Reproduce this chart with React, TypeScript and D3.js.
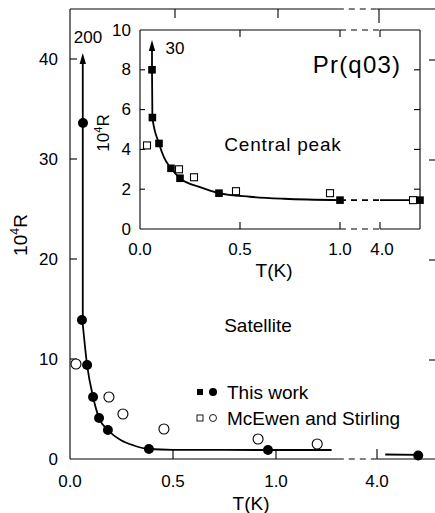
import * as d3 from "d3";
import { useEffect, useRef } from "react";

// Satellite (outer panel)
const satThisT = [0.063, 0.058, 0.083, 0.112, 0.141, 0.184, 0.383, 0.961, 4.2];
const satThisR = [33.6, 13.9, 9.4, 6.2, 4.1, 2.9, 1.0, 0.9, 0.35];
const satMcT = [0.029, 0.189, 0.257, 0.456, 0.913, 1.2];
const satMcR = [9.5, 6.2, 4.5, 3.0, 2.0, 1.5];
const satFitT = [0.06, 0.083, 0.112, 0.141, 0.184, 0.25, 0.31, 0.383, 0.5, 0.96, 1.27];
const satFitR = [13.9, 9.4, 6.2, 4.1, 2.9, 1.85, 1.35, 1.0, 0.92, 0.9, 0.9];
const satTailT = [4.04, 4.2];
const satTailR = [0.45, 0.42];
const satArrowT = 0.062;
const satArrowR = [13.9, 40.6];

// Central peak (inset)
const cpThisT = [0.06, 0.062, 0.095, 0.155, 0.2, 0.395, 1.0, 4.2];
const cpThisR = [8.0, 5.6, 4.3, 3.05, 2.55, 1.8, 1.45, 1.45];
const cpMcT = [0.035, 0.195, 0.27, 0.48, 0.95, 4.165];
const cpMcR = [4.2, 3.0, 2.6, 1.9, 1.8, 1.45];
const cpFitT = [0.06, 0.062, 0.095, 0.12, 0.155, 0.2, 0.3, 0.395, 0.55, 0.72, 1.0];
const cpFitR = [8.0, 5.6, 4.3, 3.6, 3.05, 2.55, 2.1, 1.8, 1.62, 1.52, 1.45];
const cpArrowT = 0.06;
const cpArrowR = [8.0, 9.5];

const xTickVals = [0, 0.5, 1.0, 4.0];
const xTickLabels = ["0.0", "0.5", "1.0", "4.0"];
const satYTicks = [0, 10, 20, 30, 40];
const cpYTicks = [0, 2, 4, 6, 8, 10];

const W = 435, H = 513;
const FONT = "'Liberation Sans', Arial, sans-serif";

const broken = (a, b, cut) => (t) => (t < cut ? a(t) : b(t));

const App = () => {
  const ref = useRef(null);

  useEffect(() => {
    const svg = d3.select(ref.current);
    svg.selectAll("*").remove();

    // ---------- outer panel scales
    const xa = d3.scaleLinear().domain([0, 1]).range([70, 276]);
    const xb = d3.scaleLinear().domain([4, 4.2]).range([377, 418.2]);
    const x = broken(xa, xb, 2);
    const y = d3.scaleLinear().domain([0, 45]).range([459, 9]);
    const left = x(0), right = W, top = y(45), bottom = y(0);
    const brk0 = xa(1.3), brk1 = xb(4);

    const g = svg.append("g");
    const line = (x1, y1, x2, y2, dash?) => {
      const l = g.append("line")
        .attr("x1", x1).attr("y1", y1).attr("x2", x2).attr("y2", y2)
        .attr("stroke", "#000").attr("stroke-width", 1.1);
      if (dash) l.attr("stroke-dasharray", dash);
      return l;
    };

    // frame
    line(left, top, left, bottom);
    [top, bottom].forEach(yy => {
      line(left, yy, brk0, yy);
      line(brk0, yy, brk1, yy, "6,5");
      line(brk1, yy, right, yy);
    });
    satYTicks.filter(v => v > 0).forEach(v => {
      line(left, y(v), left + 7, y(v));
      line(right - 6, y(v) + 1, right, y(v) + 1);
    });
    xTickVals.filter(v => v > 0).forEach(v => {
      line(x(v), bottom, x(v), bottom - 10);
      line(x(v) + 2, top, x(v) + 2, top + (v === 4 ? 14 : 9));
    });

    // tick labels
    satYTicks.forEach(v => {
      g.append("text").attr("x", 58).attr("y", y(v)).attr("text-anchor", "end")
        .attr("dominant-baseline", "central").attr("font-size", 17).attr("font-family", FONT)
        .text(v);
    });
    xTickVals.forEach((v, i) => {
      g.append("text").attr("x", x(v)).attr("y", 481).attr("text-anchor", "middle")
        .attr("dominant-baseline", "central").attr("font-size", 17).attr("font-family", FONT)
        .text(xTickLabels[i]);
    });

    // axis titles
    const yTitle = (tx, ty, fs) => {
      const t = g.append("text").attr("transform", `translate(${tx},${ty}) rotate(-90)`)
        .attr("text-anchor", "middle").attr("font-size", fs).attr("font-family", FONT);
      t.append("tspan").text("10");
      t.append("tspan").attr("dy", -fs * 0.4).attr("font-size", fs * 0.65).text("4");
      t.append("tspan").attr("dy", fs * 0.4).text("R");
    };
    yTitle(27, 235, 19);
    g.append("text").attr("x", 251).attr("y", 503).attr("text-anchor", "middle")
      .attr("dominant-baseline", "central").attr("font-size", 19).attr("font-family", FONT)
      .text("T(K)");
    g.append("text").attr("x", 258).attr("y", 325).attr("text-anchor", "middle")
      .attr("dominant-baseline", "central").attr("font-size", 19).attr("font-family", FONT)
      .text("Satellite");

    // fit curve and arrow
    const fitLine = d3.line().x(d => x(d[0])).y(d => y(d[1])).curve(d3.curveMonotoneX);
    g.append("path").attr("d", fitLine(satFitT.map((t, i) => [t, satFitR[i]])))
      .attr("fill", "none").attr("stroke", "#000").attr("stroke-width", 1.8);
    g.append("path").attr("d", d3.line()(satTailT.map((t, i) => [x(t), y(satTailR[i])])))
      .attr("fill", "none").attr("stroke", "#000").attr("stroke-width", 1.8);
    const arrow = (ax, y0, y1) => {
      line(ax, y0, ax, y1 + 6).attr("stroke-width", 1.8);
      g.append("path").attr("d", `M${ax},${y1} L${ax - 3.2},${y1 + 11} L${ax + 3.2},${y1 + 11} Z`)
        .attr("fill", "#000");
    };
    arrow(x(satArrowT), y(satArrowR[0]), y(satArrowR[1]));
    g.append("text").attr("x", 88).attr("y", 37).attr("text-anchor", "middle")
      .attr("dominant-baseline", "central").attr("font-size", 17).attr("font-family", FONT)
      .text("200");

    // markers
    satMcT.forEach((t, i) => {
      g.append("circle").attr("cx", x(t)).attr("cy", y(satMcR[i])).attr("r", 5)
        .attr("fill", "#fff").attr("stroke", "#000").attr("stroke-width", 1.1);
    });
    satThisT.forEach((t, i) => {
      g.append("circle").attr("cx", x(t)).attr("cy", y(satThisR[i])).attr("r", 5).attr("fill", "#000");
    });

    // legend
    const lg = [{ y: 392, open: false, text: "This work" }, { y: 418, open: true, text: "McEwen and Stirling" }];
    lg.forEach(d => {
      g.append("rect").attr("x", 197).attr("y", d.y - 3).attr("width", 6).attr("height", 6)
        .attr("fill", d.open ? "#fff" : "#000").attr("stroke", "#000").attr("stroke-width", d.open ? 0.9 : 0);
      g.append("circle").attr("cx", 213).attr("cy", d.y).attr("r", d.open ? 3.5 : 4)
        .attr("fill", d.open ? "#fff" : "#000").attr("stroke", "#000").attr("stroke-width", d.open ? 0.9 : 0);
      g.append("text").attr("x", 227).attr("y", d.y).attr("dominant-baseline", "central")
        .attr("font-size", 19).attr("font-family", FONT).text(d.text);
    });

    // ---------- inset
    const ia = d3.scaleLinear().domain([0, 1]).range([140, 340]);
    const ib = d3.scaleLinear().domain([4, 4.2]).range([380, 420]);
    const ix = broken(ia, ib, 2);
    const iy = d3.scaleLinear().domain([0, 10]).range([229, 30]);
    const il = ix(0), ir = ib(4.2), it = iy(10), ibt = iy(0);
    const ib0 = ia(1), ib1 = ib(4);

    g.append("rect").attr("x", il).attr("y", it).attr("width", ir - il).attr("height", ibt - it)
      .attr("fill", "#fff");
    line(il, it, il, ibt);
    line(ir, it, ir, ibt);
    [it, ibt].forEach(yy => {
      line(il, yy, ib0, yy);
      line(ib0, yy, ib1, yy, "6,5");
      line(ib1, yy, ir, yy);
    });
    cpYTicks.filter(v => v > 0 && v < 10).forEach(v => {
      line(il, iy(v), il + 5, iy(v));
      line(ir - 6, iy(v), ir, iy(v));
    });
    xTickVals.filter(v => v > 0).forEach(v => {
      line(ix(v), ibt, ix(v), ibt - 7);
      line(ix(v), it, ix(v), it + 7);
    });
    cpYTicks.forEach(v => {
      g.append("text").attr("x", 131).attr("y", iy(v)).attr("text-anchor", "end")
        .attr("dominant-baseline", "central").attr("font-size", 17).attr("font-family", FONT)
        .text(v);
    });
    xTickVals.forEach((v, i) => {
      g.append("text").attr("x", ix(v) + (v === 4 ? 2 : 0)).attr("y", 249).attr("text-anchor", "middle")
        .attr("dominant-baseline", "central").attr("font-size", 17).attr("font-family", FONT)
        .text(xTickLabels[i]);
    });
    yTitle(109, 133, 17);
    g.append("text").attr("x", 274).attr("y", 270).attr("text-anchor", "middle")
      .attr("dominant-baseline", "central").attr("font-size", 19).attr("font-family", FONT)
      .text("T(K)");
    g.append("text").attr("x", 283).attr("y", 144).attr("text-anchor", "middle")
      .attr("dominant-baseline", "central").attr("font-size", 19).attr("letter-spacing", 0.8)
      .attr("font-family", FONT).text("Central peak");
    g.append("text").attr("x", 357).attr("y", 64).attr("text-anchor", "middle")
      .attr("dominant-baseline", "central").attr("font-size", 24).attr("letter-spacing", 1.2)
      .attr("font-family", FONT).text("Pr(q03)");

    const iFit = d3.line().x(d => ix(d[0])).y(d => iy(d[1])).curve(d3.curveMonotoneX);
    g.append("path").attr("d", iFit(cpFitT.map((t, i) => [t, cpFitR[i]])))
      .attr("fill", "none").attr("stroke", "#000").attr("stroke-width", 1.8);
    const lastR = cpThisR[cpThisR.length - 1];
    line(ib0, iy(lastR), ib1, iy(lastR), "6,5").attr("stroke-width", 1.6);
    line(ib1, iy(lastR), ir, iy(lastR)).attr("stroke-width", 1.6);
    arrow(ix(cpArrowT), iy(cpArrowR[0]), iy(cpArrowR[1]));
    g.append("text").attr("x", 175).attr("y", 48).attr("text-anchor", "middle")
      .attr("dominant-baseline", "central").attr("font-size", 17).attr("font-family", FONT)
      .text("30");

    cpMcT.forEach((t, i) => {
      g.append("rect").attr("x", ix(t) - 3.5).attr("y", iy(cpMcR[i]) - 3.5).attr("width", 7).attr("height", 7)
        .attr("fill", "#fff").attr("stroke", "#000").attr("stroke-width", 1.1);
    });
    cpThisT.forEach((t, i) => {
      g.append("rect").attr("x", ix(t) - 3.8).attr("y", iy(cpThisR[i]) - 3.8).attr("width", 7.6).attr("height", 7.6)
        .attr("fill", "#000");
    });
  }, []);

  return (
    <svg ref={ref} width={W} height={H}
      style={{ position: "absolute", left: 0, top: 0, background: "#fff" }} />
  );
};

export default App;
